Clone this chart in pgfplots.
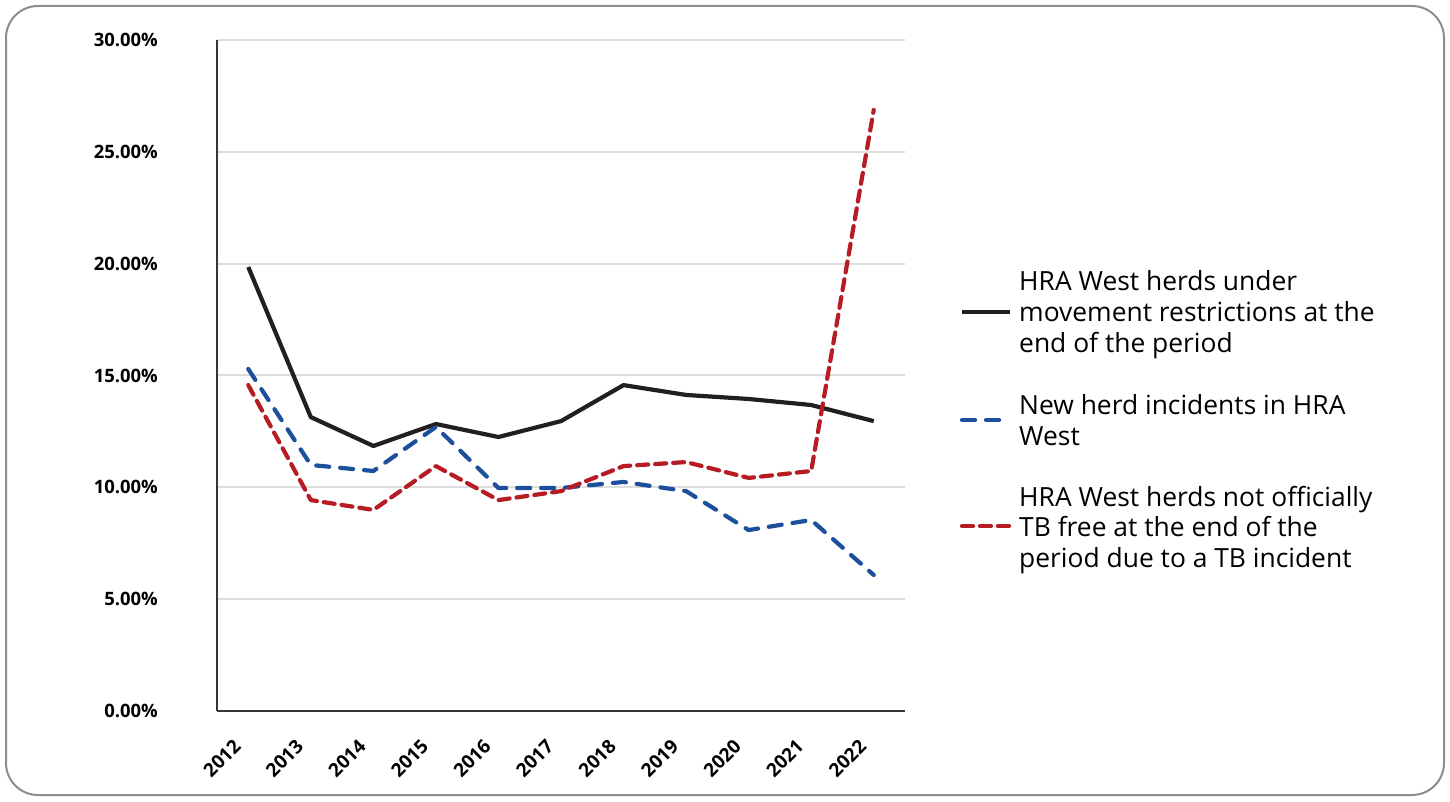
\documentclass[border=0pt]{standalone}
\usepackage{fontspec}
\setmainfont{Open Sans}
\usepackage{pgfplots}
\pgfplotsset{compat=1.18}
\definecolor{myblue}{HTML}{1C4F9C}
\definecolor{myred}{HTML}{B71C24}
\definecolor{myblack}{HTML}{231F20}
\definecolor{gridc}{HTML}{DDDDDD}
\definecolor{framec}{HTML}{8C8C8C}
\tikzset{
  sblack/.style={myblack, line width=4.2bp, line join=round},
  sblue/.style={myblue, line width=4.2bp, line cap=round, line join=round, dash pattern=on 13bp off 11bp},
  sred/.style={myred, line width=4.2bp, line cap=round, line join=round, dash pattern=on 11bp off 7bp},
  legtext/.style={anchor=west, align=left, inner sep=0pt, font=\fontsize{26.5}{31}\selectfont},
}
\begin{document}
\begin{tikzpicture}[x=1bp,y=1bp]
\useasboundingbox (0,0) rectangle (1450,801);
\draw[color=framec, line width=2bp, rounded corners=32bp] (6,6) rectangle (1444,795);
\begin{axis}[
  at={(217bp,90bp)}, anchor=south west,
  scale only axis, width=688bp, height=671bp,
  xmin=-0.5, xmax=10.5, ymin=0, ymax=30,
  axis lines=left,
  axis line style={-, color=myblack!90, line width=2.2bp},
  ymajorgrids, grid style={gridc, line width=2bp},
  major tick length=0,
  xtick={0,...,10},
  xticklabels={2012,2013,2014,2015,2016,2017,2018,2019,2020,2021,2022},
  ytick={0,5,10,15,20,25,30},
  yticklabel={\pgfmathprintnumber[fixed,fixed zerofill,precision=2]{\tick}\%},
  /pgf/number format/assume math mode=true,
  x tick label style={xshift=-11bp, yshift=-32bp, rotate=45, anchor=east, inner sep=0pt, font=\fontsize{19}{22}\selectfont\bfseries},
  y tick label style={anchor=east, inner sep=0pt, xshift=-59bp, font=\fontsize{18.5}{22}\selectfont\bfseries},
]
\addplot[sblack] coordinates {
(0,19.85) (1,13.14) (2,11.85) (3,12.83) (4,12.25) (5,12.96) (6,14.57) (7,14.13) (8,13.95) (9,13.68) (10,12.96)};
\addplot[sblue] coordinates {
(0,15.29) (1,11.00) (2,10.73) (3,12.70) (4,9.97) (5,9.97) (6,10.24) (7,9.83) (8,8.09) (9,8.54) (10,6.08)};
\addplot[sred] coordinates {
(0,14.57) (1,9.43) (2,8.99) (3,10.95) (4,9.43) (5,9.83) (6,10.95) (7,11.13) (8,10.42) (9,10.73) (10,26.87)};
\end{axis}
% legend
\draw[sblack] (962,489) -- (1010,489);
\node[legtext] at (1019,486) {HRA West herds under\\movement restrictions at the\\end of the period};
\draw[sblue] (962,381) -- (1010,381);
\node[legtext] at (1019,381) {New herd incidents in HRA\\West};
\draw[sred] (962,275) -- (1010,275);
\node[legtext] at (1019,271) {HRA West herds not officially\\TB free at the end of the\\period due to a TB incident};
\end{tikzpicture}
\end{document}
